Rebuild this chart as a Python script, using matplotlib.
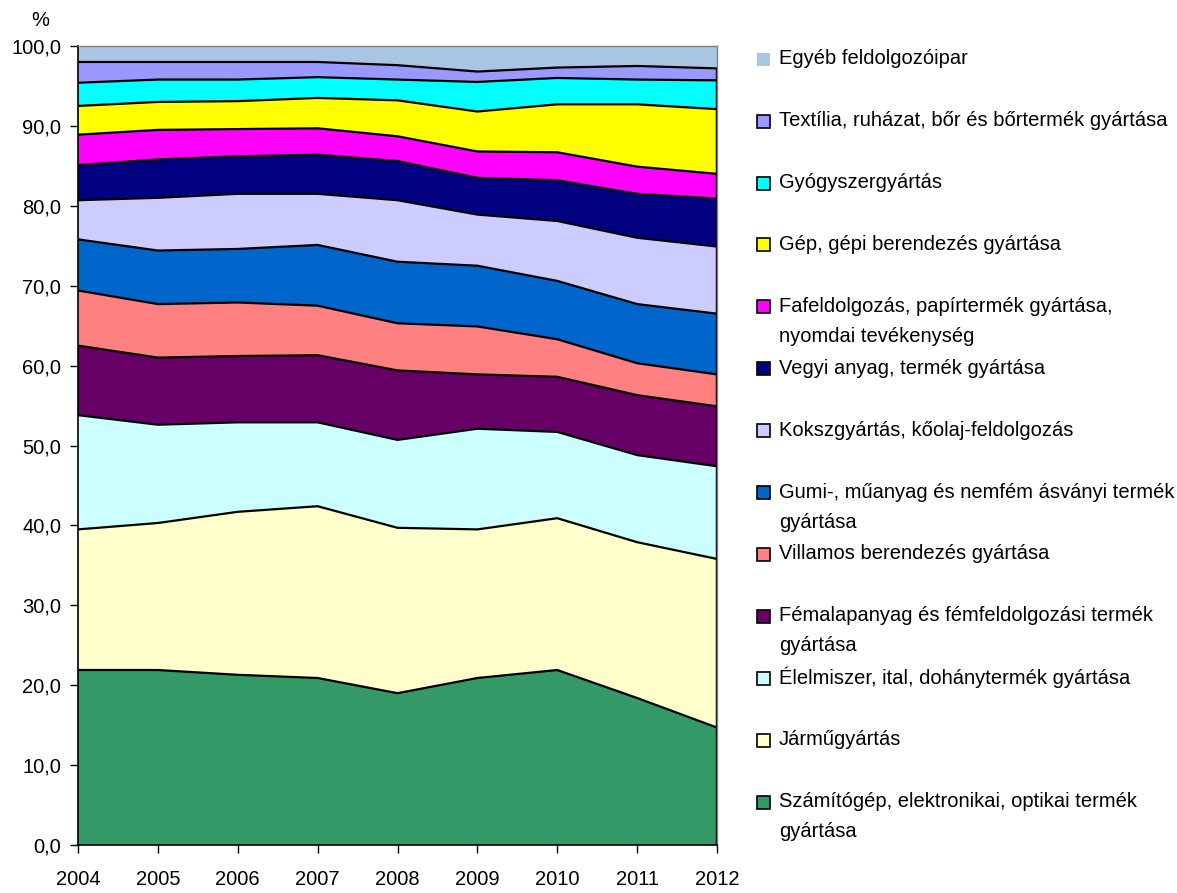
import numpy as np
import matplotlib
matplotlib.use('Agg')
import matplotlib.pyplot as plt
from matplotlib.patches import Rectangle

plt.rcParams['font.family'] = ['Liberation Sans', 'DejaVu Sans']

years = [2004, 2005, 2006, 2007, 2008, 2009, 2010, 2011, 2012]

# shares in %, bottom of the stack first
szamitogep = [21.9, 21.9, 21.3, 20.9, 19.0, 20.9, 21.9, 18.4, 14.7]
jarmu      = [17.6, 18.4, 20.4, 21.5, 20.7, 18.6, 19.0, 19.5, 21.1]
elelmiszer = [14.3, 12.3, 11.2, 10.5, 11.0, 12.6, 10.8, 10.9, 11.6]
femalap    = [8.7, 8.4, 8.3, 8.4, 8.7, 6.8, 6.9, 7.5, 7.5]
villamos   = [6.9, 6.7, 6.7, 6.2, 5.9, 6.0, 4.7, 4.0, 4.0]
gumi       = [6.4, 6.7, 6.7, 7.6, 7.7, 7.6, 7.3, 7.4, 7.6]
koksz      = [4.9, 6.6, 6.9, 6.4, 7.7, 6.4, 7.5, 8.3, 8.4]
vegyi      = [4.4, 4.8, 4.7, 4.9, 4.9, 4.6, 5.1, 5.5, 6.0]
fafeld     = [3.8, 3.7, 3.4, 3.3, 3.1, 3.3, 3.5, 3.4, 3.1]
gep        = [3.6, 3.5, 3.5, 3.8, 4.5, 5.0, 6.0, 7.8, 8.1]
gyogyszer  = [2.9, 2.8, 2.7, 2.6, 2.6, 3.7, 3.3, 3.1, 3.6]
textil     = [2.6, 2.2, 2.2, 1.9, 1.8, 1.3, 1.3, 1.7, 1.5]
egyeb      = [2.0, 2.0, 2.0, 2.0, 2.4, 3.2, 2.7, 2.5, 2.8]

series = [szamitogep, jarmu, elelmiszer, femalap, villamos, gumi, koksz,
          vegyi, fafeld, gep, gyogyszer, textil, egyeb]

labels = [
    'Számítógép, elektronikai, optikai termék\ngyártása',
    'Járműgyártás',
    'Élelmiszer, ital, dohánytermék gyártása',
    'Fémalapanyag és fémfeldolgozási termék\ngyártása',
    'Villamos berendezés gyártása',
    'Gumi-, műanyag és nemfém ásványi termék\ngyártása',
    'Kokszgyártás, kőolaj-feldolgozás',
    'Vegyi anyag, termék gyártása',
    'Fafeldolgozás, papírtermék gyártása,\nnyomdai tevékenység',
    'Gép, gépi berendezés gyártása',
    'Gyógyszergyártás',
    'Textília, ruházat, bőr és bőrtermék gyártása',
    'Egyéb feldolgozóipar',
]

colors = ['#339966', '#FFFFCC', '#CCFFFF', '#660066', '#FF8080', '#0066CC',
          '#CCCCFF', '#000080', '#FF00FF', '#FFFF00', '#00FFFF', '#9999FF',
          '#AAC4E4']

W, H = 1177, 893
fig = plt.figure(figsize=(W / 100, H / 100), dpi=100)
ax = fig.add_axes([78 / W, 1 - 845 / H, (717 - 78) / W, (845 - 46) / H])

ax.stackplot(years, *series, colors=colors, linewidth=0)

# black outlines on the series boundaries (not on the top "Egyéb" band)
cum = np.cumsum(np.array(series), axis=0)
for row in cum[:-1]:
    ax.plot(years, row, color='black', lw=1.6, solid_joinstyle='miter')
ax.vlines(years[-1], 0, cum[-2][-1], color='black', lw=2.5)

ax.set_xlim(years[0], years[-1])
ax.set_ylim(0, 100)
ax.set_xticks(years)
ax.set_yticks(np.arange(0, 101, 10))
ax.set_yticklabels([f'{v:.1f}'.replace('.', ',') for v in np.arange(0, 101, 10)])
ax.tick_params(axis='y', direction='out', length=6, width=1, pad=6, labelsize=14.5)
ax.tick_params(axis='x', direction='out', length=6, width=1, pad=12, labelsize=14.5)

for s in ['left', 'bottom']:
    ax.spines[s].set_color('black')
    ax.spines[s].set_linewidth(1.2)
for s in ['top', 'right']:
    ax.spines[s].set_color('#808080')
    ax.spines[s].set_linewidth(1)

fig.text(40 / W, 1 - 20 / H, '%', ha='center', va='center', fontsize=14.5)

# legend, top entry first, evenly spaced
for i, k in enumerate(range(len(series) - 1, -1, -1)):
    yc = 58.7 + 61.9 * i
    edge = 'none' if k == len(series) - 1 else 'black'
    fig.patches.append(Rectangle((757 / W, 1 - (yc + 7) / H), 13 / W, 13 / H,
                                 transform=fig.transFigure, facecolor=colors[k],
                                 edgecolor=edge, linewidth=1.2))
    for j, line in enumerate(labels[k].split('\n')):
        fig.text(779 / W, 1 - (yc + 30 * j) / H, line, ha='left', va='center',
                 fontsize=14.5)

fig.savefig('out.png', dpi=100)
